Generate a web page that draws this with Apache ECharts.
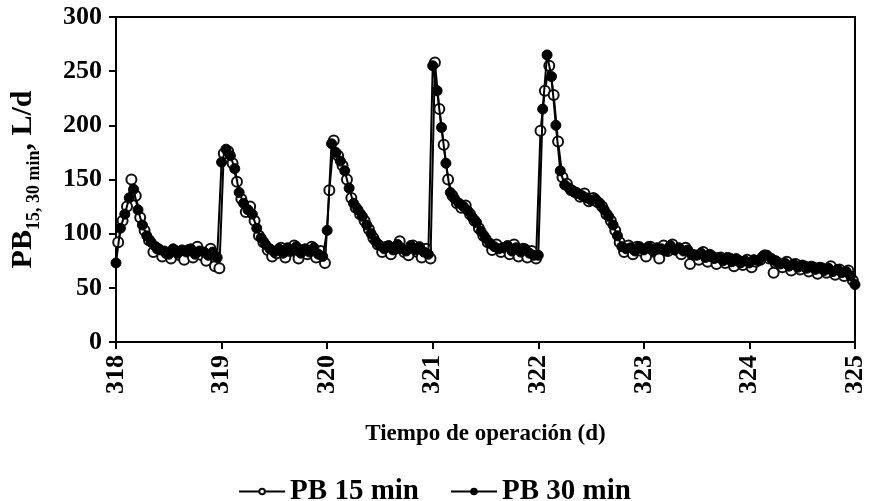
<!DOCTYPE html>
<html>
<head>
<meta charset="utf-8">
<script src="https://cdn.jsdelivr.net/npm/echarts@6/dist/echarts.min.js"></script>
<style>html,body{margin:0;padding:0;background:#fff}#c{width:869px;height:501px}</style>
</head>
<body>
<div id="c"></div>
<script>
const startDay = 318;
const stepDays = 1 / 24;
const xTicks = [318, 319, 320, 321, 322, 323, 324, 325];
const yTicks = [0, 50, 100, 150, 200, 250, 300];

// PB 15 min (open circles), sampled at half-hour offsets
const pb15 = [
  92,112,125,150,135,115,103,94,83,86,79,82,77,84,80,76,85,78,88,80,75,86,70,68,
  174,176,165,148,132,120,125,112,98,92,85,79,82,87,78,84,89,77,85,81,88,78,84,73,
  140,186,172,163,150,133,124,118,112,104,96,90,83,88,81,86,93,83,80,89,83,78,86,77,
  258,215,182,150,135,128,124,126,118,112,105,98,92,85,90,83,87,81,90,79,86,78,84,77,
  195,232,255,228,185,152,146,140,138,134,137,130,133,129,125,118,112,103,92,83,89,81,88,84,
  79,88,83,77,89,84,90,85,81,87,72,80,76,83,74,79,72,78,73,77,70,75,71,76,
  69,74,76,80,77,64,73,69,74,66,72,67,70,65,69,63,68,64,70,62,67,61,66,57
];

// PB 30 min (filled circles), sampled on the hour
const pb30 = [
  73,105,118,133,141,122,108,98,92,88,85,84,81,86,82,85,83,86,81,84,83,80,83,78,
  166,178,172,160,138,128,122,118,105,96,90,86,83,86,82,87,84,88,82,86,83,87,81,79,
  103,183,175,167,158,142,128,122,116,108,100,93,89,86,89,85,90,86,84,89,85,88,83,81,
  255,232,198,165,138,132,128,125,121,115,110,102,96,91,88,86,87,89,84,87,83,86,82,80,
  80,215,265,245,200,158,145,142,139,137,135,133,131,132,128,122,116,108,98,88,86,87,84,88,
  85,88,84,87,86,84,89,85,87,84,85,81,80,82,78,81,77,78,75,78,74,77,73,75,
  73,76,75,79,80,77,75,72,73,70,72,69,71,68,70,67,69,66,68,65,67,64,65,61,
  53
];

const pts15 = pb15.map((v, i) => [startDay + (i + 0.5) * stepDays, v]);
const pts30 = pb30.map((v, i) => [startDay + i * stepDays, v]);

const FONT = '"Liberation Serif", "Times New Roman", serif';
const chart = echarts.init(document.getElementById('c'), null, {renderer: 'canvas'});
chart.setOption({
  animation: false,
  backgroundColor: '#fff',
  grid: {left: 115, right: 14, top: 17, bottom: 159, show: true, borderColor: '#000', borderWidth: 2, backgroundColor: 'transparent'},
  xAxis: {
    type: 'value', min: xTicks[0], max: xTicks[xTicks.length - 1], interval: 1,
    name: 'Tiempo de operación (d)', nameLocation: 'middle', nameGap: 81,
    nameTextStyle: {fontFamily: FONT, fontWeight: 'bold', fontSize: 23, color: '#000'},
    axisLine: {lineStyle: {color: '#000', width: 2}},
    axisTick: {show: true, length: 7, lineStyle: {color: '#000', width: 2}},
    axisLabel: {rotate: 90, fontFamily: FONT, fontWeight: 'bold', fontSize: 26, color: '#000', margin: 13},
    splitLine: {show: false}
  },
  yAxis: {
    type: 'value', min: yTicks[0], max: yTicks[yTicks.length - 1], interval: 50,
    name: '{a|PB}{b|15, 30 min}{a|, L/d}', nameLocation: 'middle', nameRotate: 90, nameGap: 78,
    nameTextStyle: {
      rich: {
        a: {fontFamily: FONT, fontWeight: 'bold', fontSize: 30, color: '#000', lineHeight: 34, verticalAlign: 'bottom'},
        b: {fontFamily: FONT, fontWeight: 'bold', fontSize: 18, color: '#000', lineHeight: 34, verticalAlign: 'bottom', padding: [0, 0, -5, 0]}
      }
    },
    axisLine: {show: true, lineStyle: {color: '#000', width: 2}},
    axisTick: {show: true, length: 7, lineStyle: {color: '#000', width: 2}},
    axisLabel: {fontFamily: FONT, fontWeight: 'bold', fontSize: 26, color: '#000', margin: 14},
    splitLine: {show: false}
  },
  legend: {
    top: 472, left: 'center', itemGap: 31, itemWidth: 46, itemHeight: 7,
    textStyle: {fontFamily: FONT, fontWeight: 'bold', fontSize: 29, color: '#000'},
    data: ['PB 15 min', 'PB 30 min']
  },
  series: [
    {
      name: 'PB 15 min', type: 'line', data: pts15, z: 2,
      symbol: 'circle', symbolSize: 10, showAllSymbol: true,
      lineStyle: {color: '#000', width: 2},
      itemStyle: {color: '#fff', borderColor: '#111', borderWidth: 2}
    },
    {
      name: 'PB 30 min', type: 'line', data: pts30, z: 3,
      symbol: 'circle', symbolSize: 10, showAllSymbol: true,
      lineStyle: {color: '#000', width: 2},
      itemStyle: {color: '#000', borderColor: '#000', borderWidth: 1}
    }
  ]
});
</script>
</body>
</html>
